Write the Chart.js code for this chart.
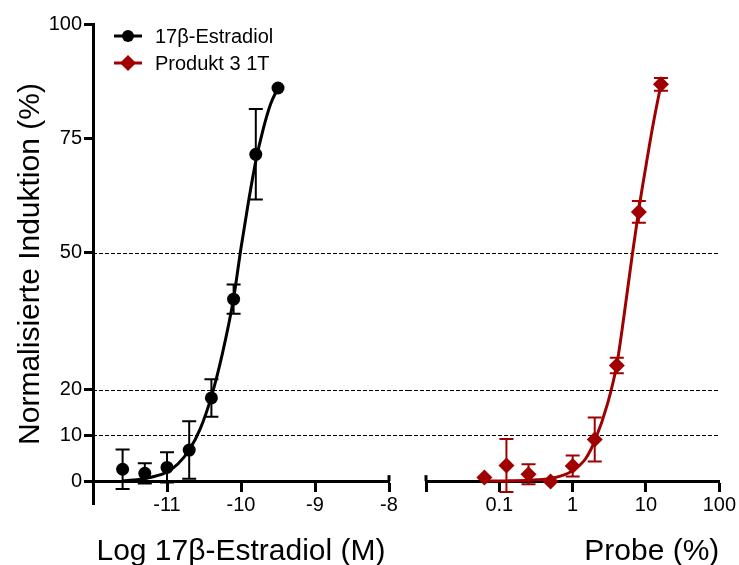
<!DOCTYPE html>
<html>
<head>
<meta charset="utf-8">
<script src="https://cdn.jsdelivr.net/npm/chart.js@4.4.1/dist/chart.umd.min.js"></script>
<style>
  html, body { margin:0; padding:0; background:#fff; }
  #wrap { position:relative; width:739px; height:565px; }
  #left { position:absolute; left:0; top:0; }
  #right { position:absolute; left:408px; top:0; }
</style>
</head>
<body>
<div id="wrap">
  <canvas id="left" width="408" height="565"></canvas>
  <canvas id="right" width="331" height="565"></canvas>
</div>
<script>
// --- data ---
const seriesNames = ['17β-Estradiol', 'Produkt 3 1T'];
const seriesColors = ['#000000', '#a00000'];

// 17β-Estradiol, log molar concentration
const estX   = [-11.6, -11.3, -11.0, -10.7, -10.4, -10.1, -9.8, -9.5];
const estY   = [2.6, 1.7, 3.0, 6.8, 18.2, 39.8, 71.5, 86.0];
const estErr = [4.3, 2.2, 3.3, 6.3, 4.1, 3.2, 9.9, 0];
const estFitX = [-11.6, -11.4, -11.2, -11.0, -10.85, -10.7, -10.55, -10.4, -10.25, -10.1, -10.0, -9.9, -9.8, -9.7, -9.6, -9.5];
const estFitY = [0.1, 0.3, 0.9, 2.0, 3.8, 6.8, 11.5, 18.5, 28, 40, 51, 61, 70, 77, 82.5, 86];

// Produkt 3 1T, probe percentage
const probX   = [0.0625, 0.125, 0.25, 0.5, 1, 2, 4, 8, 16];
const probY   = [0.8, 3.4, 1.5, -0.1, 3.3, 9.1, 25.3, 58.9, 86.8];
const probErr = [0, 5.8, 2.2, 0, 2.3, 4.8, 1.7, 2.4, 1.4];
const probFitX = [0.0625, 0.125, 0.25, 0.5, 0.75, 1, 1.5, 2, 3, 4, 5, 6.5, 8, 10, 12.5, 16];
const probFitY = [0, 0.05, 0.2, 0.6, 1.3, 2.3, 4.9, 8.8, 17, 25.5, 36, 49.5, 59.5, 69, 78, 86.8];

// axes
const yTicks = [0, 10, 20, 50, 75, 100];
const yGrid = [10, 20, 50];
const estTicks = [-11, -10, -9, -8];
const probTicks = [0.01, 0.1, 1, 10, 100];

Chart.defaults.font.family = '"Liberation Sans", Arial, Helvetica, sans-serif';
Chart.defaults.color = '#000';

const pts = (xs, ys) => xs.map((x, i) => ({ x, y: ys[i] }));

// dotted reference lines, continuing across the gap between the panels,
// plus the small end cap where each x axis stops next to the gap
function panelPlugin(side, capValue) {
  return {
    id: 'panel',
    beforeDraw(chart) {
      const { ctx, chartArea, scales } = chart;
      const x0 = side === 'left' ? chartArea.left : 0;
      const x1 = side === 'left' ? chart.width : chartArea.right;
      ctx.save();
      ctx.strokeStyle = '#000';
      ctx.lineWidth = 1;
      ctx.setLineDash([4, 2]);
      yGrid.forEach(v => {
        const y = Math.round(scales.y.getPixelForValue(v)) + 0.5;
        ctx.beginPath(); ctx.moveTo(x0, y); ctx.lineTo(x1, y); ctx.stroke();
      });
      ctx.restore();
    },
    afterDraw(chart) {
      const { ctx, scales } = chart;
      const x = scales.x.getPixelForValue(capValue);
      const y0 = scales.y.getPixelForValue(0);
      ctx.save();
      ctx.strokeStyle = '#000';
      ctx.lineWidth = 3;
      ctx.beginPath(); ctx.moveTo(x, y0 - 6); ctx.lineTo(x, y0); ctx.stroke();
      ctx.restore();
    }
  };
}

const errorBars = {
  id: 'errorBars',
  beforeDatasetsDraw(chart) {
    const { ctx, scales } = chart;
    chart.data.datasets.forEach((ds, di) => {
      if (!ds.errors) return;
      const meta = chart.getDatasetMeta(di);
      ctx.save();
      ctx.strokeStyle = ds.borderColor;
      ctx.lineWidth = 2;
      meta.data.forEach((el, i) => {
        const e = ds.errors[i];
        if (!e) return;
        const v = ds.data[i].y;
        const yt = scales.y.getPixelForValue(v + e);
        const yb = scales.y.getPixelForValue(v - e);
        ctx.beginPath();
        ctx.moveTo(el.x, yt); ctx.lineTo(el.x, yb);
        ctx.moveTo(el.x - 7, yt); ctx.lineTo(el.x + 7, yt);
        ctx.moveTo(el.x - 7, yb); ctx.lineTo(el.x + 7, yb);
        ctx.stroke();
      });
      ctx.restore();
    });
  }
};

const legendBox = {
  id: 'legendBox',
  afterDraw(chart) {
    const { ctx, chartArea } = chart;
    const styles = [{ pointStyle: 'circle', radius: 6 }, { pointStyle: 'rectRot', radius: 8 }];
    ctx.save();
    seriesNames.forEach((name, i) => {
      const y = chartArea.top + 12 + i * 27;
      const x = chartArea.left + 21;
      ctx.strokeStyle = seriesColors[i];
      ctx.fillStyle = seriesColors[i];
      ctx.lineWidth = 3;
      ctx.beginPath(); ctx.moveTo(x, y); ctx.lineTo(x + 28, y); ctx.stroke();
      Chart.helpers.drawPoint(ctx, { pointStyle: styles[i].pointStyle, radius: styles[i].radius, rotation: 0, borderWidth: 0 }, x + 14, y);
      ctx.fillStyle = '#000';
      ctx.font = '20px "Liberation Sans", Arial, sans-serif';
      ctx.textBaseline = 'middle';
      ctx.fillText(name, x + 41, y + 1);
    });
    ctx.restore();
  }
};

const axisCommon = {
  ticks: { color: '#000', font: { size: 20 }, padding: 3, maxRotation: 0, autoSkip: false },
  grid: { drawOnChartArea: false, tickLength: 9, tickWidth: 3, tickColor: '#000' },
  border: { color: '#000', width: 3 }
};

new Chart(document.getElementById('left'), {
  type: 'scatter',
  data: {
    datasets: [
      { label: seriesNames[0] + ' fit', data: pts(estFitX, estFitY), showLine: true, borderColor: seriesColors[0],
        borderWidth: 3, pointRadius: 0, cubicInterpolationMode: 'monotone' },
      { label: seriesNames[0], data: pts(estX, estY), errors: estErr, borderColor: seriesColors[0],
        backgroundColor: seriesColors[0], pointStyle: 'circle', pointRadius: 6.5, borderWidth: 0 }
    ]
  },
  options: {
    responsive: false, animation: false,
    layout: { padding: { left: 0, right: 19, top: 24, bottom: 61 } },
    plugins: { legend: { display: false }, tooltip: { enabled: false } },
    scales: {
      x: {
        type: 'linear', min: -12, max: -8, position: { y: 0 },
        afterBuildTicks: s => { s.ticks = estTicks.map(v => ({ value: v })); },
        ...axisCommon,
        title: { display: true, text: 'Log 17β-Estradiol (M)', color: '#000', font: { size: 30 }, padding: { top: 14, bottom: 0 } }
      },
      y: {
        min: -5, max: 100,
        afterBuildTicks: s => { s.ticks = yTicks.map(v => ({ value: v })); },
        afterFit: s => { s.width = 93; },
        ticks: { color: '#000', font: { size: 20 }, padding: 2, callback: v => String(v) },
        grid: { drawOnChartArea: false, tickLength: 9, tickWidth: 3, tickColor: '#000' },
        border: { color: '#000', width: 3 },
        title: { display: true, text: 'Normalisierte Induktion (%)', color: '#000', font: { size: 30 }, padding: { top: 13, bottom: 0 } }
      }
    }
  },
  plugins: [panelPlugin('left', -8), errorBars, legendBox]
});

new Chart(document.getElementById('right'), {
  type: 'scatter',
  data: {
    datasets: [
      { label: seriesNames[1] + ' fit', data: pts(probFitX, probFitY), showLine: true, borderColor: seriesColors[1],
        borderWidth: 3, pointRadius: 0, cubicInterpolationMode: 'monotone' },
      { label: seriesNames[1], data: pts(probX, probY), errors: probErr, borderColor: seriesColors[1],
        backgroundColor: seriesColors[1], pointStyle: 'rectRot', pointRadius: 8, borderWidth: 0 }
    ]
  },
  options: {
    responsive: false, animation: false,
    layout: { padding: { left: 18, right: 19, top: 24, bottom: 61 } },
    plugins: { legend: { display: false }, tooltip: { enabled: false } },
    scales: {
      x: {
        type: 'logarithmic', min: 0.01, max: 100, position: { y: 0 },
        afterBuildTicks: s => { s.ticks = probTicks.map(v => ({ value: v })); },
        ...axisCommon,
        ticks: { ...axisCommon.ticks, callback: v => (v === 0.01 ? '' : String(v)) },
        title: { display: true, text: 'Probe (%)', align: 'end', color: '#000', font: { size: 30 }, padding: { top: 14, bottom: 0 } }
      },
      y: { min: -5, max: 100, display: false }
    }
  },
  plugins: [panelPlugin('right', 0.01), errorBars]
});
</script>
</body>
</html>
